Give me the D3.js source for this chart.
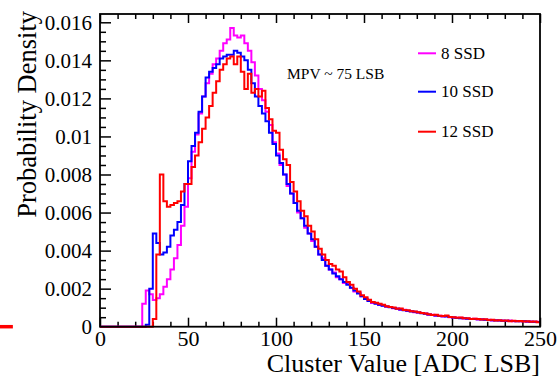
<!DOCTYPE html>
<html>
<head>
<meta charset="utf-8">
<title>Cluster value</title>
<script src="https://d3js.org/d3.v7.min.js"></script>
<style>
  body { margin: 0; background: #fff; }
  svg text { font-family: 'Liberation Serif', 'DejaVu Serif', serif; fill: #000; }
</style>
</head>
<body>
<div id="chart"></div>
<script>
// histogram bins: 2 ADC units wide, low edges 0,2,...,248
var binWidth = 2;
var binEdges = d3.range(0, 250, binWidth);

// probability density, in units of 1e-4
var dens8 = [0,0,0,0,0,0,0,0,0,0,0,0,
  12,19,17,14,15,17,21,25,30,36,43,53,63,78,92,101,112,121,128,133,138,141,145,149,
  151,157,153,152,153,149,145,139,132,125,119,113,106,97,91,85,80,74,70,65,60,57,52,49,
  45,42,38,36,32,30,28.5,26,25,23,22.5,20.5,18.5,18,16,15,13.8,12.5,12.3,11.4,11.2,10.5,
  10.4,9.7,9.6,8.9,8.9,8.3,8.2,7.6,7.5,7.2,6.9,6.3,6.3,5.8,5.8,5.4,5.6,5.0,4.9,4.7,4.7,
  4.3,4.3,4.1,4.2,3.8,3.9,3.6,3.7,3.3,3.5,3.2,3.3,3.0,3.2,2.9,3.0,2.8,2.9,2.6,2.7,2.5,2.6];

var dens10 = [0,0,0,0,0,0,0,0,0,0,0,0,0,
  1,20,49,44,38,39,42,48,51,55,64,75,87,95,102,113,121,131,134,136,138,141,142,143,143,
  145,144,142,140,135,128,121,116,112,108,102,96,90,86,80,75,70,65,61,57,53,49,46,42,38,
  35,32,30,28,26.5,25,23.5,22,20.5,19,17.5,16,14.5,13.5,12.8,12,11.6,11,10.6,10.2,9.8,
  9.4,9,8.7,8.4,8.0,7.8,7.4,7.1,6.8,6.4,6.1,5.9,5.6,5.5,5.3,5.1,4.8,4.6,4.5,4.4,4.2,4.1,
  4.0,3.9,3.8,3.6,3.5,3.4,3.3,3.2,3.1,3.1,3.0,3.0,2.9,2.8,2.8,2.7,2.6,2.6,2.5];

var dens12 = [0,0,0,0,0,0,0,0,0,0,0,0,0,0,0,
  4,38,80,66,63,64,65,66,71,75,75,84,90,97,104,110,116,123,129,135,138,141,142,138,142,
  134,125,133,123,125,121,124,115,109,103,102,93,88,85,76,71,66,61,58,53,50,46,41,38,35,
  33,32,30,29,26,23.5,22,20,18.5,16.5,15.5,14.2,13.0,12.6,12.0,11.5,10.8,10.4,10.1,9.5,
  9.6,8.8,8.6,8.1,8.0,7.6,7.2,7.0,6.6,6.2,6.3,5.8,5.6,5.9,5.1,5.0,4.7,4.8,4.4,4.5,4.1,
  4.2,4.0,3.8,3.9,3.5,3.6,3.3,3.4,3.1,3.3,2.9,3.1,2.8,3.0,2.7,2.8,2.6,2.7,2.4];

var seriesNames = ["8 SSD", "10 SSD", "12 SSD"];
var seriesColors = ["#ff00ff", "#0000ff", "#ff0000"];
var seriesData = [dens8, dens10, dens12];

var xTicks = [0, 50, 100, 150, 200, 250];
var yTicks = [0, 0.002, 0.004, 0.006, 0.008, 0.01, 0.012, 0.014, 0.016];
var annotation = "MPV ~ 75 LSB";
// short red stub left of the frame, in ADC units
var redStub = [-57, -49.5];

var serif = "'Liberation Serif', 'DejaVu Serif', serif";
var W = 559, H = 378;
var svg = d3.select("#chart").append("svg")
  .attr("width", W).attr("height", H)
  .attr("font-family", serif);

var x = d3.scaleLinear().domain([0, 250]).range([100, 540]);
var y = d3.scaleLinear().domain([0, 0.016436]).range([326.7, 14]);

// minor ticks
var xMinor = d3.range(0, 251, 10).filter(function(d){ return d % 50 !== 0; });
var yMinor = d3.range(0, 0.0164, 0.0005).filter(function(d, i){ return i % 4 !== 0; });

function styleAxis(g) {
  g.attr("font-family", serif);
  g.select(".domain").remove();
  g.selectAll("line").attr("stroke", "#000").attr("stroke-width", 1.5);
}

// bottom axis
svg.append("g").attr("transform", "translate(0,326.7)")
  .call(d3.axisBottom(x).tickValues(xTicks).tickSizeInner(-9).tickSizeOuter(0).tickPadding(4).tickFormat(d3.format("d")))
  .call(styleAxis)
  .call(function(g){ g.selectAll("text").style("font-size", "22px"); });
svg.append("g").attr("transform", "translate(0,326.7)")
  .call(d3.axisBottom(x).tickValues(xMinor).tickSizeInner(-5).tickSizeOuter(0).tickFormat(""))
  .call(styleAxis);
// top axis ticks
svg.append("g").attr("transform", "translate(0,14)")
  .call(d3.axisTop(x).tickValues(xTicks).tickSizeInner(-9).tickSizeOuter(0).tickFormat(""))
  .call(styleAxis);
svg.append("g").attr("transform", "translate(0,14)")
  .call(d3.axisTop(x).tickValues(xMinor).tickSizeInner(-5).tickSizeOuter(0).tickFormat(""))
  .call(styleAxis);

// left axis
svg.append("g").attr("transform", "translate(100,0)")
  .call(d3.axisLeft(y).tickValues(yTicks).tickSizeInner(-11).tickSizeOuter(0).tickPadding(8)
    .tickFormat(function(d){ return d === 0 ? "0" : String(+d.toFixed(3)); }))
  .call(styleAxis)
  .call(function(g){ g.selectAll("text").style("font-size", "21px"); });
svg.append("g").attr("transform", "translate(100,0)")
  .call(d3.axisLeft(y).tickValues(yMinor).tickSizeInner(-6).tickSizeOuter(0).tickFormat(""))
  .call(styleAxis);

// histograms
var line = d3.line()
  .x(function(d){ return x(d[0]); })
  .y(function(d){ return y(d[1]); })
  .curve(d3.curveStepAfter);

seriesData.forEach(function(vals, k) {
  var pts = binEdges.map(function(e, i){ return [e, vals[i] * 1e-4]; });
  pts.push([250, vals[vals.length - 1] * 1e-4]);
  svg.append("path")
    .attr("d", line(pts))
    .attr("fill", "none")
    .attr("stroke", seriesColors[k])
    .attr("stroke-width", 2);
});

// red stub on the left
svg.append("line")
  .attr("x1", Math.max(0, x(redStub[0]))).attr("x2", x(redStub[1]))
  .attr("y1", y(0)).attr("y2", y(0))
  .attr("stroke", "#ff0000").attr("stroke-width", 3.5);

// frame
svg.append("rect")
  .attr("x", x(0)).attr("y", y.range()[1])
  .attr("width", x(250) - x(0)).attr("height", y(0) - y.range()[1])
  .attr("fill", "none").attr("stroke", "#000").attr("stroke-width", 1.8);

// axis titles
svg.append("text")
  .attr("x", 540).attr("y", 372)
  .attr("text-anchor", "end")
  .style("font-size", "26px")
  .text("Cluster Value [ADC LSB]");

svg.append("text")
  .attr("transform", "rotate(-90)")
  .attr("x", -11).attr("y", 36)
  .attr("text-anchor", "end")
  .style("font-size", "26.5px")
  .text("Probability Density");

// annotation
svg.append("text")
  .attr("x", 287).attr("y", 79.3)
  .style("font-size", "15.5px")
  .text(annotation);

// legend
var legY = [53.3, 91.7, 131.7];
seriesNames.forEach(function(name, k) {
  svg.append("line")
    .attr("x1", 418).attr("x2", 436)
    .attr("y1", legY[k]).attr("y2", legY[k])
    .attr("stroke", seriesColors[k]).attr("stroke-width", 2);
  svg.append("text")
    .attr("x", 441).attr("y", legY[k] + 5.5)
    .style("font-size", "17px")
    .text(name);
});
</script>
</body>
</html>
